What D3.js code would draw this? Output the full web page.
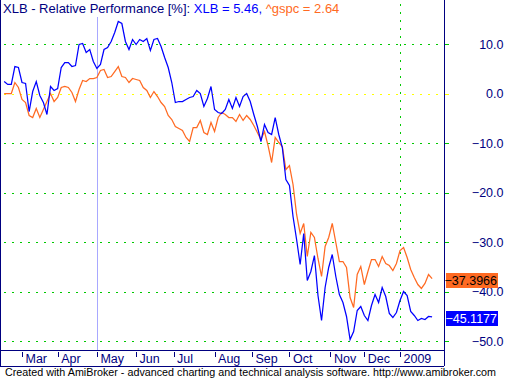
<!DOCTYPE html>
<html>
<head>
<meta charset="utf-8">
<script src="https://cdn.jsdelivr.net/npm/d3@7"></script>
<style>
  body { margin: 0; background: #fff; }
  svg { display: block; font-family: "Liberation Sans", Arial, sans-serif; }
</style>
</head>
<body>
<div id="chart"></div>
<script>
// trading session index (every 2nd bar) for each reading
const sessions = d3.range(0, 241, 2);

// relative performance [%] of XLB
const xlb = [
  2.42, 1.82, 1.82, 5.45, 5.25, 2.22, 2.02, -3.64, 0.40, 2.42,
  -0.40, -1.82, -4.24, 1.41, 0.61, 1.01, 5.25, 6.26, 6.26, 5.45,
  5.66, 9.90, 10.10, 8.28, 8.89, 6.46, 5.05, 5.86, 8.89, 9.29,
  10.51, 12.32, 14.55, 14.14, 10.51, 8.89, 10.91, 9.90, 10.91, 10.51,
  11.11, 8.69, 10.91, 11.11, 9.49, 7.27, 5.25, 2.22, -1.82, -1.62,
  -1.62, -1.21, -0.81, -0.61, 0.61, 0.00, -2.63, -1.01, 1.41, -3.23,
  -3.84, -4.04, -3.23, -1.21, -3.03, -0.81, -2.63, -0.61, 0.00, -1.62,
  -4.24, -6.67, -9.70, -6.26, -7.88, -8.28, -4.85, -8.28, -10.91, -17.37,
  -18.59, -24.85, -29.49, -34.55, -28.28, -37.78, -35.96, -32.73, -40.81, -45.86,
  -39.19, -35.15, -32.53, -36.97, -40.61, -42.22, -45.05, -49.70, -48.08, -43.84,
  -43.03, -44.85, -45.86, -42.83, -40.61, -42.22, -39.19, -41.01, -44.44, -45.25,
  -44.24, -41.82, -40.00, -40.81, -44.04, -44.85, -45.86, -45.45, -45.66, -45.05,
  -45.1177
];

// relative performance [%] of ^gspc
const gspc = [
  0.00, 0.00, 0.00, 2.22, 1.21, -1.21, -1.82, -4.44, -4.85, -3.03,
  -4.85, -3.23, -1.62, 0.00, -1.62, -0.81, 1.21, 1.41, 1.21, 0.20,
  -1.62, 0.81, 2.63, 2.42, 3.03, 3.03, 3.23, 4.65, 4.85, 3.23,
  3.43, 4.44, 5.45, 3.43, 3.23, 2.22, 3.03, 2.83, 2.63, 1.21,
  0.61, -0.81, 0.40, -0.61, -1.82, -2.63, -4.44, -5.25, -6.67, -7.07,
  -7.47, -8.89, -9.70, -6.87, -6.87, -5.45, -7.88, -8.28, -5.86, -7.68,
  -4.85, -3.84, -4.24, -4.85, -4.85, -5.66, -4.24, -5.45, -4.44, -5.25,
  -6.46, -7.88, -9.29, -7.68, -10.51, -13.94, -8.89, -9.90, -10.71, -15.35,
  -14.55, -18.38, -24.44, -28.28, -26.26, -32.93, -28.08, -29.09, -33.33, -36.97,
  -30.91, -29.09, -26.26, -30.10, -33.94, -33.94, -35.15, -41.21, -43.23, -36.57,
  -34.95, -38.59, -35.96, -33.54, -33.54, -34.95, -32.93, -34.34, -34.75, -35.76,
  -34.34, -31.72, -31.11, -33.13, -35.56, -37.17, -38.59, -39.39, -38.38, -36.57,
  -37.3966
];

const yTicks = [10, 0, -10, -20, -30, -40, -50];
const monthLabels = ["Mar", "Apr", "May", "Jun", "Jul", "Aug", "Sep", "Oct", "Nov", "Dec", "2009"];
const monthSessions = [10, 30, 52, 74, 95, 118, 139, 160, 183, 202, 222];
const selectedSession = 52;
const yearSession = 222;
const titleValues = { xlb: 5.46, gspc: 2.64 };

const W = 505, H = 380;
const navy = "#000080", blue = "#0000ff", orange = "#ff6a22", green = "#00c800", yellow = "#ffff00";
const plotLeft = 1, plotRight = 444, plotBottom = 350, stripBottom = 366;

const svg = d3.select("#chart").append("svg").attr("width", W).attr("height", H);

const x = d3.scaleLinear().domain([0, 240]).range([4.17, 432.1]);
const y = d3.scaleLinear().domain([-50, 10]).range([341, 44]);

// grid
const grid = svg.append("g").attr("shape-rendering", "crispEdges");
grid.selectAll("line.h")
  .data(yTicks)
  .join("line")
  .attr("x1", plotLeft + 3).attr("x2", plotRight - 1)
  .attr("y1", d => Math.round(y(d)) + 0.5).attr("y2", d => Math.round(y(d)) + 0.5)
  .attr("stroke", d => d === 0 ? yellow : green)
  .attr("stroke-width", 1.5)
  .attr("stroke-dasharray", "2,6");

grid.append("line")
  .attr("x1", Math.round(x(yearSession)) + 0.5).attr("x2", Math.round(x(yearSession)) + 0.5)
  .attr("y1", 4).attr("y2", plotBottom)
  .attr("stroke", green).attr("stroke-width", 1.5).attr("stroke-dasharray", "2,6");

grid.append("line")
  .attr("x1", Math.round(x(selectedSession)) + 0.5).attr("x2", Math.round(x(selectedSession)) + 0.5)
  .attr("y1", 17).attr("y2", plotBottom)
  .attr("stroke", "#a8a8ff").attr("stroke-width", 1);

// series
const line = d3.line().x((d, i) => x(sessions[i])).y(d => y(d));
svg.append("path").datum(gspc).attr("d", line)
  .attr("fill", "none").attr("stroke", orange).attr("stroke-width", 1.25);
svg.append("path").datum(xlb).attr("d", line)
  .attr("fill", "none").attr("stroke", blue).attr("stroke-width", 1.25);

// frame
const frame = svg.append("g").attr("shape-rendering", "crispEdges").attr("stroke", navy);
frame.append("line").attr("x1", 0.5).attr("x2", 0.5).attr("y1", 0).attr("y2", stripBottom);
frame.append("line").attr("x1", 0).attr("x2", plotRight).attr("y1", plotBottom + 0.5).attr("y2", plotBottom + 0.5);
frame.append("line").attr("x1", 0).attr("x2", plotRight).attr("y1", stripBottom + 0.5).attr("y2", stripBottom + 0.5);

// right value axis
const yAxis = svg.append("g")
  .attr("transform", `translate(${plotRight + 0.5},0)`)
  .call(d3.axisRight(y).tickValues(yTicks).tickSize(4).tickFormat(d3.format(".1f")));
yAxis.select(".domain").attr("stroke", navy).attr("d", `M0,0V${stripBottom}`);
yAxis.selectAll(".tick line").attr("stroke", d => d === 0 ? yellow : green).attr("shape-rendering", "crispEdges");
yAxis.selectAll(".tick text")
  .attr("x", 503 - plotRight)
  .attr("text-anchor", "end")
  .attr("fill", navy)
  .style("font-size", "12.5px");

// last value labels
const lastLabels = [
  { v: gspc[gspc.length - 1], bg: orange, fg: "#000" },
  { v: xlb[xlb.length - 1], bg: blue, fg: "#fff" }
];
const lab = svg.append("g").selectAll("g").data(lastLabels).join("g")
  .attr("transform", d => `translate(446,${Math.round(y(d.v)) + 1})`);
lab.append("rect").attr("x", 0).attr("y", -7).attr("width", 52).attr("height", 15).attr("fill", d => d.bg);
lab.append("text").attr("x", 51).attr("y", 5).attr("text-anchor", "end")
  .attr("fill", d => d.fg).style("font-size", "12.5px")
  .text(d => d3.format(".4f")(d.v));

// bottom date strip
const xAxis = svg.append("g")
  .attr("transform", `translate(0,${plotBottom})`)
  .call(d3.axisBottom(x).tickValues(monthSessions).tickSize(5)
    .tickFormat((d, i) => monthLabels[i]));
xAxis.select(".domain").remove();
xAxis.selectAll(".tick line").attr("stroke", navy).attr("y1", 2).attr("y2", 7).attr("shape-rendering", "crispEdges");
xAxis.selectAll(".tick text")
  .attr("x", 3).attr("y", 13).attr("dy", 0)
  .attr("text-anchor", "start")
  .attr("fill", navy)
  .style("font-size", "12.5px");

// title
const title = svg.append("text").attr("x", 3).attr("y", 13).style("font-size", "13px");
title.append("tspan").attr("fill", navy).text("XLB - Relative Performance [%]: ");
title.append("tspan").attr("fill", blue).text(`XLB = ${titleValues.xlb}, `);
title.append("tspan").attr("fill", orange).text(`^gspc = ${titleValues.gspc}`);

// footer
svg.append("text").attr("x", 5).attr("y", 376)
  .attr("fill", "#000").style("font-size", "10.5px")
  .attr("textLength", 491).attr("lengthAdjust", "spacingAndGlyphs")
  .text("Created with AmiBroker - advanced charting and technical analysis software. http://www.amibroker.com");
</script>
</body>
</html>
